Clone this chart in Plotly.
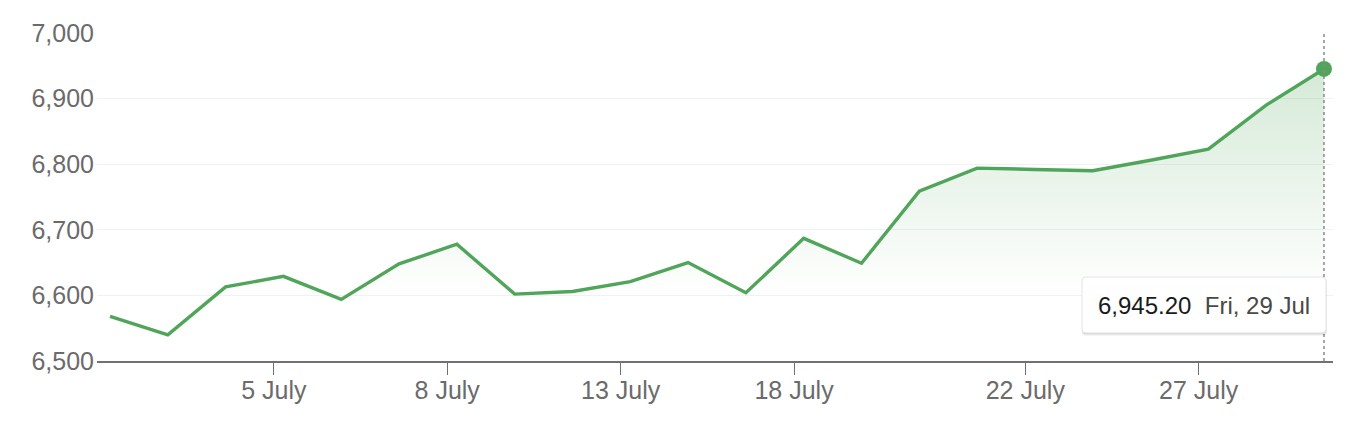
import plotly.graph_objects as go

# daily closes, July 2022
dates = ["2022-06-30", "2022-07-01", "2022-07-04", "2022-07-05", "2022-07-06",
         "2022-07-07", "2022-07-08", "2022-07-11", "2022-07-12", "2022-07-13",
         "2022-07-14", "2022-07-15", "2022-07-18", "2022-07-19", "2022-07-20",
         "2022-07-21", "2022-07-22", "2022-07-25", "2022-07-26", "2022-07-27",
         "2022-07-28", "2022-07-29"]
closes = [6568, 6540, 6613, 6629, 6594,
          6648, 6678, 6602, 6606, 6621,
          6650, 6604, 6687, 6649, 6759,
          6794, 6792, 6790, 6806, 6823,
          6890, 6945.20]

tick_dates = ["2022-07-05", "2022-07-08", "2022-07-13", "2022-07-18", "2022-07-22", "2022-07-27"]
tick_labels = ["5 July", "8 July", "13 July", "18 July", "22 July", "27 July"]
y_ticks = [6500, 6600, 6700, 6800, 6900, 7000]

tooltip_date = "Fri, 29 Jul"

green = "rgb(80,165,90)"
grey = "#6b6b6b"
font = "Liberation Sans, Arial, Helvetica, sans-serif"

# page body has an 8px margin, so the figure is laid out in its own pixels
W, H = 1348, 414
L, R, T, B = 89, 23, 25, 61
PW, PH = W - L - R, H - T - B


def px(xp, yp):
    # window pixel -> paper coords
    return (xp - 8 - L) / PW, (H - B - (yp - 8)) / PH


def round_rect(x0, y0, x1, y1, r):
    pts = []
    ax, ay = px(x0, y0)
    bx, by = px(x1, y1)
    rx, ry = r / PW, r / PH
    return (f"M {ax + rx},{ay} L {bx - rx},{ay} Q {bx},{ay} {bx},{ay - ry} "
            f"L {bx},{by + ry} Q {bx},{by} {bx - rx},{by} "
            f"L {ax + rx},{by} Q {ax},{by} {ax},{by + ry} "
            f"L {ax},{ay - ry} Q {ax},{ay} {ax + rx},{ay} Z")


x = [d + " 04:00" for d in dates]

fig = go.Figure()

fig.add_trace(go.Scatter(
    x=x, y=closes,
    mode="lines",
    line=dict(color=green, width=3.4),
    fill="tozeroy",
    fillgradient=dict(
        type="vertical",
        start=6600, stop=6960,
        colorscale=[[0, "rgba(80,165,90,0)"], [1, "rgba(80,165,90,0.25)"]],
    ),
    hoverinfo="skip",
    showlegend=False,
))

# last point marker
fig.add_trace(go.Scatter(
    x=[x[-1]], y=[closes[-1]],
    mode="markers",
    marker=dict(color=green, size=16),
    hoverinfo="skip",
    showlegend=False,
    cliponaxis=False,
))

# crosshair
fig.add_shape(type="line", xref="x", yref="paper",
              x0=x[-1], x1=x[-1], y0=0, y1=1,
              line=dict(color="#8a8a8a", width=1.5, dash="dot"))

# tooltip: soft shadow + rounded box
for off, a in [(3, 0.04), (2, 0.06), (1, 0.08)]:
    fig.add_shape(type="path", xref="paper", yref="paper",
                  path=round_rect(1082, 277 + off, 1326 + off * 0.3, 333 + off, 4),
                  line=dict(width=0), fillcolor=f"rgba(0,0,0,{a})", layer="above")
fig.add_shape(type="path", xref="paper", yref="paper",
              path=round_rect(1082, 277, 1326, 333, 4),
              line=dict(color="#e4e4e4", width=1), fillcolor="white", layer="above")

tx, ty = px(1204, 305)
fig.add_annotation(
    xref="paper", yref="paper", x=tx, y=ty,
    xanchor="center", yanchor="middle",
    text=f"<span style='color:#1a1a1a'>{closes[-1]:,.2f}</span>&nbsp;&nbsp;"
         f"<span style='color:#484848'>{tooltip_date}</span>",
    showarrow=False,
    font=dict(family=font, size=24),
)

fig.update_layout(
    width=W, height=H,
    margin=dict(l=L, r=R, t=T, b=B),
    paper_bgcolor="white", plot_bgcolor="white",
    font=dict(family=font, size=25, color=grey),
    xaxis=dict(
        type="date",
        rangebreaks=[dict(bounds=["sat", "mon"])],
        range=["2022-06-29 22:36", "2022-07-29 07:45"],
        tickvals=tick_dates, ticktext=tick_labels,
        showgrid=False, zeroline=False,
        showline=True, linecolor="#717171", linewidth=1.7,
        ticks="outside", ticklen=12, tickwidth=1.3, tickcolor="#717171",
        tickfont=dict(size=25, color=grey),
        ticklabelstandoff=-6,
    ),
    yaxis=dict(
        range=[6500, 7000],
        tickvals=y_ticks, tickformat=",",
        showgrid=True, gridcolor="#f1f1f1", gridwidth=1.3,
        zeroline=False, showline=False,
        ticks="", tickfont=dict(size=25, color=grey),
        ticklabelstandoff=2,
    ),
)

fig.write_html("out.html")
